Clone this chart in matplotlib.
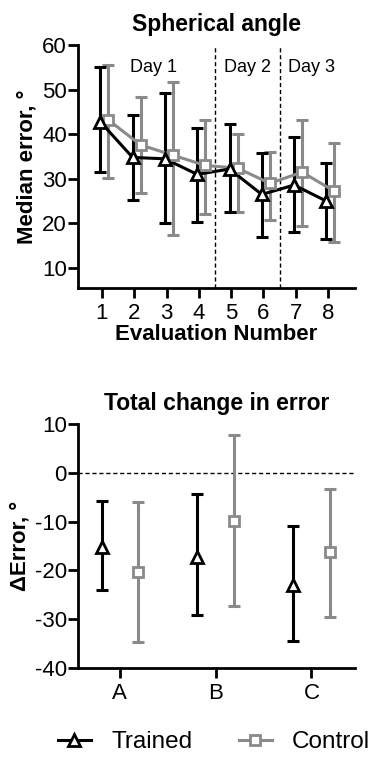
import numpy as np
import matplotlib
matplotlib.use("Agg")
import matplotlib.pyplot as plt
from matplotlib.lines import Line2D

plt.rcParams["font.family"] = ["Liberation Sans", "DejaVu Sans"]
plt.rcParams["axes.unicode_minus"] = False

# --- top panel: median error per evaluation (median with lower/upper whisker)
evals = [1, 2, 3, 4, 5, 6, 7, 8]
trained_med = [42.8, 34.8, 34.5, 31.0, 32.2, 26.5, 28.6, 25.0]
trained_lo = [31.5, 25.2, 20.1, 20.3, 22.5, 17.0, 18.1, 16.4]
trained_hi = [55.0, 44.3, 49.2, 41.4, 42.3, 35.8, 39.3, 33.5]
control_med = [43.2, 37.6, 35.3, 33.0, 32.4, 29.0, 31.5, 27.2]
control_lo = [30.2, 26.8, 17.5, 22.0, 22.5, 20.8, 19.5, 15.8]
control_hi = [55.5, 48.3, 51.7, 43.2, 40.1, 36.1, 43.2, 38.0]
day_labels = ["Day 1", "Day 2", "Day 3"]
day_pos = [2.6, 5.5, 7.5]
day_breaks = [4.5, 6.5]

# --- bottom panel: total change in error
groups = ["A", "B", "C"]
d_trained = [-15.1, -17.2, -23.0]
d_trained_lo = [-24.1, -29.2, -34.4]
d_trained_hi = [-5.8, -4.4, -10.8]
d_control = [-20.4, -9.9, -16.3]
d_control_lo = [-34.7, -27.2, -29.6]
d_control_hi = [-6.0, 7.7, -3.3]

GRAY = "#8a8a8a"
TICK_FS = 16
LAB_FS = 16
TITLE_FS = 16.5

fig = plt.figure(figsize=(3.77, 7.61), dpi=100)
ax1 = fig.add_axes([0.207, 0.6216, 0.735, 0.319])
ax2 = fig.add_axes([0.207, 0.1222, 0.735, 0.3206])


def style(ax):
    for s in ["top", "right"]:
        ax.spines[s].set_visible(False)
    for s in ["left", "bottom"]:
        ax.spines[s].set_linewidth(2.0)
    ax.tick_params(width=2.0, length=7, labelsize=TICK_FS)
    ax.tick_params(axis="y", pad=1)
    ax.tick_params(axis="x", pad=4)


def errbars(ax, x, med, lo, hi, color, marker, ms, line=True):
    x = np.asarray(x, float)
    med = np.asarray(med)
    yerr = [med - np.asarray(lo), np.asarray(hi) - med]
    ax.errorbar(x, med, yerr=yerr, fmt="none", ecolor=color, elinewidth=2.2,
                capsize=4.5, capthick=2.2, zorder=2)
    if line:
        ax.plot(x, med, "-", color=color, lw=2.2, zorder=3)
    ax.plot(x, med, marker, ms=ms, mfc="white", mec=color, mew=2.0,
            linestyle="none", zorder=4)


# top panel
x = np.array(evals, float)
errbars(ax1, x + 0.2, control_med, control_lo, control_hi, GRAY, "s", 7.5)
errbars(ax1, x - 0.05, trained_med, trained_lo, trained_hi, "black", "^", 9)
for b in day_breaks:
    ax1.axvline(b, color="black", lw=1.0, ls=(0, (3, 2)), zorder=1)
for t, p in zip(day_labels, day_pos):
    ax1.text(p, 55.1, t, ha="center", va="center", fontsize=13)
ax1.set_xlim(0.26, 8.84)
ax1.set_ylim(5.5, 60)
ax1.set_yticks([10, 20, 30, 40, 50, 60])
ax1.set_xticks(evals)
style(ax1)
ax1.set_title("Spherical angle", fontsize=TITLE_FS, fontweight="bold", pad=10)
ax1.set_xlabel("Evaluation Number", fontsize=LAB_FS, fontweight="bold", labelpad=0)
ax1.set_ylabel("Median error, °", fontsize=LAB_FS, fontweight="bold", labelpad=3)

# bottom panel
g = np.arange(1, len(groups) + 1, dtype=float)
errbars(ax2, g - 0.19, d_trained, d_trained_lo, d_trained_hi, "black", "^", 9, line=False)
errbars(ax2, g + 0.19, d_control, d_control_lo, d_control_hi, GRAY, "s", 7.5, line=False)
ax2.axhline(0, color="black", lw=1.0, ls=(0, (3, 2)), zorder=1)
ax2.set_xlim(0.565, 3.456)
ax2.set_ylim(-40, 10)
ax2.set_yticks([10, 0, -10, -20, -30, -40])
ax2.set_xticks(g)
ax2.set_xticklabels(groups)
style(ax2)
ax2.set_title("Total change in error", fontsize=TITLE_FS, fontweight="bold", pad=10)
ax2.set_ylabel("ΔError, °", fontsize=LAB_FS, fontweight="bold", labelpad=3)

# legend
handles = [
    Line2D([], [], color="black", lw=2.2, marker="^", ms=9, mfc="white", mec="black", mew=2.0),
    Line2D([], [], color=GRAY, lw=2.2, marker="s", ms=7.5, mfc="white", mec=GRAY, mew=2.0),
]
fig.legend(handles, ["Trained", "Control"], loc="center", bbox_to_anchor=(0.568, 0.0245),
           ncol=2, frameon=False, fontsize=17.5, handlelength=1.35, handletextpad=0.85,
           columnspacing=1.9, borderpad=0, borderaxespad=0)

fig.savefig("out.png", dpi=100)
